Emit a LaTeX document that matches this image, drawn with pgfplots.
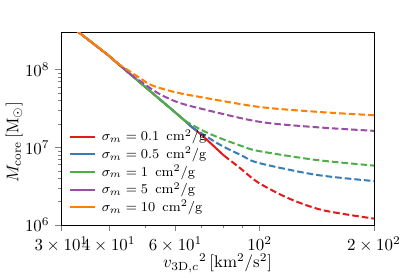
\documentclass[border=0pt]{standalone}
\usepackage{pgfplots}
\pgfplotsset{compat=1.18}
\definecolor{cred}{HTML}{E41A1C}
\definecolor{cblue}{HTML}{377EB8}
\definecolor{cgreen}{HTML}{4DAF4A}
\definecolor{cpurple}{HTML}{984EA3}
\definecolor{corange}{HTML}{FF7F00}
\begin{document}
\begin{tikzpicture}
\begin{axis}[
  name=main,
  scale only axis,
  width=185.3pt, height=114.1pt,
  xmode=log, ymode=log,
  xmin=30, xmax=200, ymin=1e6, ymax=3e8,
  xtick={30,40,60,100,200},
  xticklabels={$3\times10^1$,$4\times10^1$,$6\times10^1$,$10^2$,$2\times10^2$},
  minor xtick={50,70,80,90},
  ytick={1e6,1e7,1e8},
  tick align=outside,
  tick pos=left,
  major tick length=3.5pt,
  minor tick length=2pt,
  xlabel={${v_{\mathrm{3D},c}}^2\,[\mathrm{km^2/s^2}]$},
  ylabel={$M_{\mathrm{core}}\,[\mathrm{M_\odot}]$},
  xlabel style={at={(rel axis cs:0.5,0)}, anchor=north, yshift=-13.5pt},
  ylabel style={at={(rel axis cs:0,0.43)}, anchor=center, yshift=28pt},
  legend style={at={(rel axis cs:0,0)}, anchor=south west, xshift=4.3pt, yshift=5.2pt,
    draw=none, fill=none, font=\footnotesize, inner sep=0pt, row sep=0.3pt,
    nodes={inner sep=1pt}, column sep=2.3pt},
  legend cell align=left,
  legend image code/.code={\draw[#1] (0pt,0pt) -- (15pt,0pt);},
  every axis plot/.append style={line width=1.2pt},
  clip=true,
]
% solid parts (legend)
\addplot[cred] coordinates {(33,3.15e8)(33.5,2.97e8)(39.75,1.555e8)(42.2,1.207e8)(45.73,8.63e7)(49.07,6.43e7)(58.80,3.04e7)(63.58,2.19e7)(66.3,1.816e7)(70.42,1.436e7)(80.44,7.86e6)};
\addlegendentry{$\sigma_m = 0.1~\,\mathrm{cm^2/g}$}
\addplot[cblue] coordinates {(33,3.15e8)(33.5,2.97e8)(39.75,1.555e8)(42.2,1.207e8)(45.73,8.63e7)(49.07,6.43e7)(58.80,3.04e7)(63.58,2.19e7)(66.3,1.816e7)};
\addlegendentry{$\sigma_m = 0.5~\,\mathrm{cm^2/g}$}
\addplot[cgreen] coordinates {(33,3.15e8)(33.5,2.97e8)(39.75,1.555e8)(42.2,1.207e8)(45.73,8.63e7)(49.07,6.43e7)(58.80,3.04e7)(63.58,2.19e7)};
\addlegendentry{$\sigma_m = 1~\,\mathrm{cm^2/g}$}
\addplot[cpurple] coordinates {(33,3.15e8)(33.5,2.97e8)(39.75,1.555e8)(42.2,1.207e8)(45.73,8.63e7)};
\addlegendentry{$\sigma_m = 5~\,\mathrm{cm^2/g}$}
\addplot[corange] coordinates {(33,3.15e8)(33.5,2.97e8)(39.75,1.555e8)(42.2,1.207e8)};
\addlegendentry{$\sigma_m = 10~\,\mathrm{cm^2/g}$}
% dashed parts
\addplot[cred, dash pattern=on 3.9pt off 1.8pt, smooth, tension=0.5, forget plot] coordinates {(80.44,7.86e6)(89.63,5.21e6)(99.29,3.50e6)(119.6,2.19e6)(146.9,1.55e6)(200,1.21e6)};
\addplot[cblue, dash pattern=on 3.9pt off 1.8pt, smooth, tension=0.5, forget plot] coordinates {(66.3,1.816e7)(78.02,1.102e7)(89.63,7.86e6)(99.29,6.30e6)(140.8,4.43e6)(200,3.68e6)};
\addplot[cgreen, dash pattern=on 3.9pt off 1.8pt, smooth, tension=0.5, forget plot] coordinates {(63.58,2.19e7)(70.42,1.663e7)(78.02,1.334e7)(89.63,1.039e7)(99.29,8.97e6)(140.8,6.88e6)(200,5.82e6)};
\addplot[cpurple, dash pattern=on 3.9pt off 1.8pt, smooth, tension=0.5, forget plot] coordinates {(45.73,8.63e7)(49.07,6.82e7)(53.70,5.04e7)(59.97,3.90e7)(68.34,3.24e7)(99.29,2.14e7)(140.8,1.816e7)(200,1.63e7)};
\addplot[corange, dash pattern=on 3.9pt off 1.8pt, smooth, tension=0.5, forget plot] coordinates {(42.2,1.207e8)(48.58,7.68e7)(52.12,6.25e7)(59.5,5.16e7)(68.34,4.52e7)(99.29,3.32e7)(140.8,2.87e7)(200,2.585e7)};
\end{axis}
\path (main.south west) ++(-34.3pt,-29.6pt) rectangle ++(244pt,163pt);
\end{tikzpicture}
\end{document}
